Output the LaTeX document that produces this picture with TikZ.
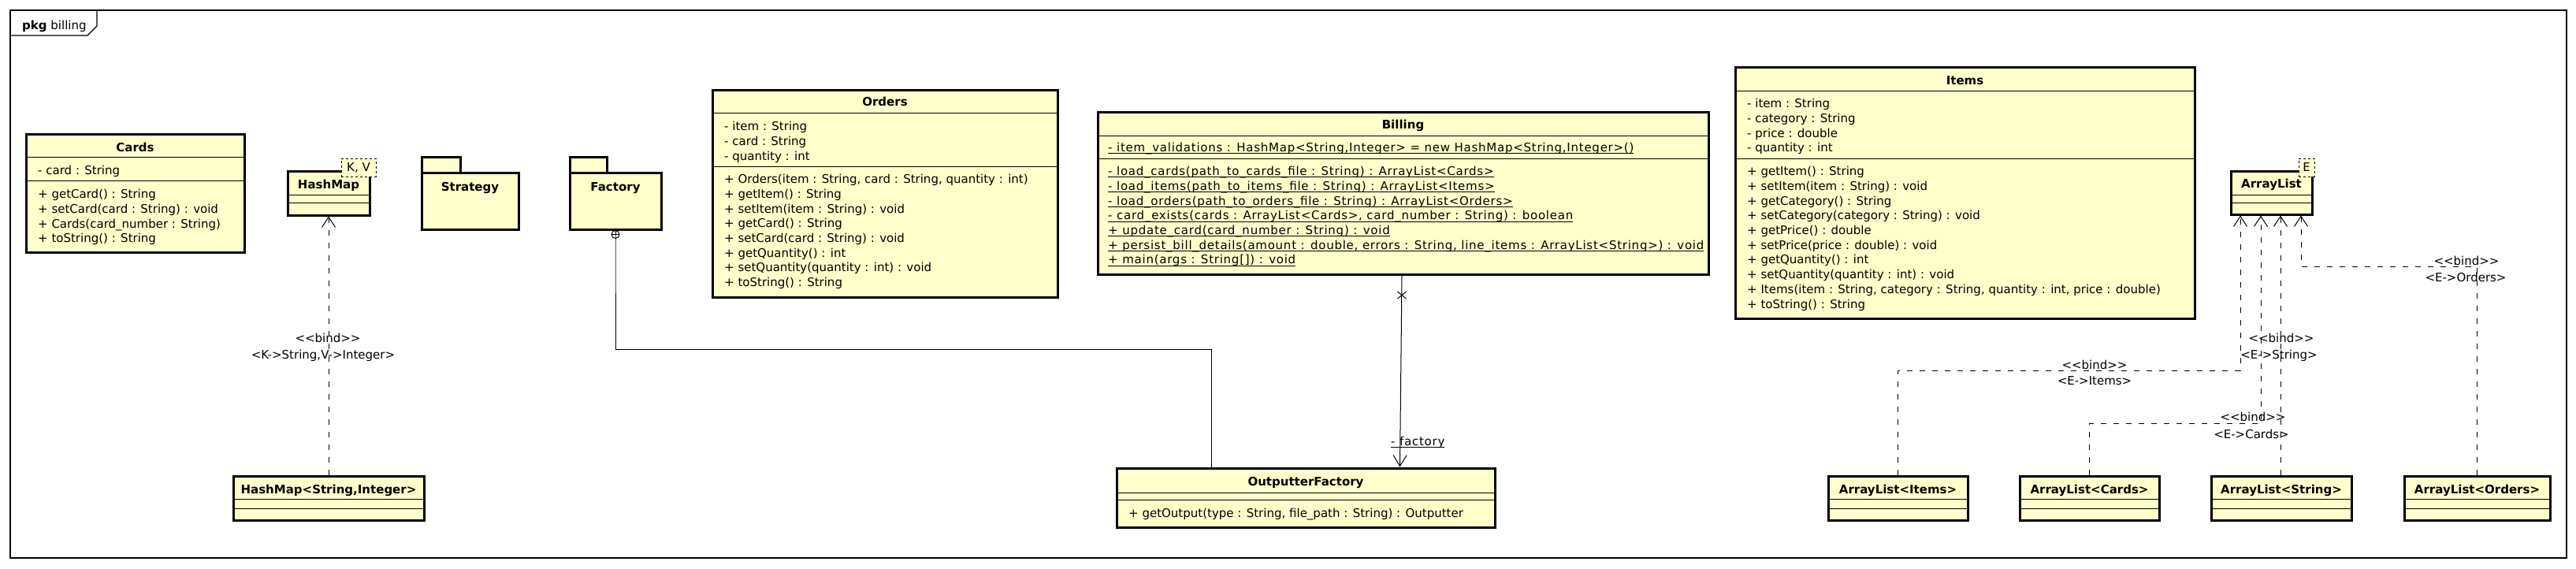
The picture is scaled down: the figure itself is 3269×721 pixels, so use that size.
\documentclass[tikz,border=0pt]{standalone}
\usepackage{fontspec}
\setmainfont{DejaVu Sans}
\newfontfamily\billfont{DejaVu Sans}[LetterSpace=5]
\usetikzlibrary{arrows.meta,calc}
\definecolor{umlfill}{RGB}{255,255,204}
\newcommand\memfont{\fontsize{15}{18.7}\selectfont}
\newcommand\titfont{\fontsize{15}{18.7}\selectfont\bfseries}
\newcommand\stline[1]{\setbox0\hbox{#1}\rlap{\rule[-2.6pt]{\wd0}{0.9pt}}\box0}
\newcommand\ml{\strut}
\tikzset{
  umlbox/.style={draw, line width=3pt, fill=umlfill, inner sep=0pt},
  compsep/.style={line width=1pt},
  members/.style={anchor=north west, inner sep=0pt, align=left, font=\memfont},
  billmembers/.style={members, font=\memfont\billfont},
  title/.style={anchor=base, inner sep=0pt, font=\titfont},
  tparam/.style={draw, dashed, line width=1pt, fill=umlfill, inner sep=0pt, font=\memfont},
  bind/.style={line width=1pt, dash pattern=on 7pt off 9pt, -{Straight Barb[length=13pt,width=17pt]}},
  conn/.style={line width=1pt},
  lbl/.style={inner sep=0pt, font=\memfont},
}
\newcommand\umlrect[5]{\node[umlbox, minimum width={(#4-#2)*1pt}, minimum height={(#5-#3)*1pt}] (#1) at ({(#2+#4)/2},{(#3+#5)/2}) {};}
\newcommand\tparambox[6]{\node[tparam, minimum width={(#4-#2)*1pt}, minimum height={(#5-#3)*1pt}] (#1) at ({(#2+#4)/2},{(#3+#5)/2}) {#6};}
\newcommand\csep[2]{\draw[compsep] (#1.west |- 0,#2) -- (#1.east |- 0,#2);}
\newcommand\members[5][members]{\node[#1] (#2) at (#3,{#4-13.09}) {#5};}
\begin{document}
\begin{tikzpicture}[x=1pt,y=-1pt]
\useasboundingbox[fill=white] (0,0) rectangle (3269,721);
% frame
\node[draw, line width=1.3pt, minimum width=3244pt, minimum height=695pt, inner sep=0pt] (frame) at (1635,360.5) {};
\draw[line width=1.3pt] (13,45) -- (111,45) -- (123,33) -- (123,13);
\node[anchor=base west, inner sep=0pt, font=\memfont] (pkgT) at (28,37) {\textbf{pkg} billing};

% Cards
\umlrect{cards}{33}{170}{310}{320}
\node[title] (cardsT) at (171.5,192.5) {Cards};
\csep{cards}{199}\csep{cards}{229}
\members{cardsA}{48}{221}{\ml - card : String}
\members{cardsM}{48}{251.5}{\ml + getCard() : String\\\ml + setCard(card : String) : void\\\ml + Cards(card\_number : String)\\\ml + toString() : String}

% HashMap
\umlrect{hm}{365}{217}{469}{273}
\node[title] (hmT) at (417,239.5) {HashMap};
\csep{hm}{247}\csep{hm}{257}
\tparambox{hmP}{433}{201}{477}{224}{K, V}

% Strategy package
\umlrect{stratTab}{535}{199}{584}{219}
\umlrect{strat}{535}{219}{658}{291}
\node[title] (stratT) at (596.5,242.5) {Strategy};

% Factory package
\umlrect{facTab}{723}{199}{770}{219}
\umlrect{fac}{723}{219}{839}{291}
\node[title] (facT) at (781,242.5) {Factory};

% Orders
\umlrect{orders}{904}{114}{1342}{377}
\node[title] (ordersT) at (1123,134.5) {Orders};
\csep{orders}{143}\csep{orders}{211}
\members{ordersA}{919}{165.5}{\ml - item : String\\\ml - card : String\\\ml - quantity : int}
\members{ordersM}{919}{232.5}{\ml + Orders(item : String, card : String, quantity : int)\\\ml + getItem() : String\\\ml + setItem(item : String) : void\\\ml + getCard() : String\\\ml + setCard(card : String) : void\\\ml + getQuantity() : int\\\ml + setQuantity(quantity : int) : void\\\ml + toString() : String}

% Billing
\umlrect{billing}{1393}{142}{2168}{348}
\node[title] (billingT) at (1780.5,163.5) {Billing};
\csep{billing}{172}\csep{billing}{201}
\members[billmembers]{billingA}{1406}{192.5}{\ml\stline{- item\_validations : HashMap<String,Integer> = new HashMap<String,Integer>()}}
\members[billmembers]{billingM}{1406}{222.5}{\ml\stline{- load\_cards(path\_to\_cards\_file : String) : ArrayList<Cards>}\\\ml\stline{- load\_items(path\_to\_items\_file : String) : ArrayList<Items>}\\\ml\stline{- load\_orders(path\_to\_orders\_file : String) : ArrayList<Orders>}\\\ml\stline{- card\_exists(cards : ArrayList<Cards>, card\_number : String) : boolean}\\\ml\stline{+ update\_card(card\_number : String) : void}\\\ml\stline{+ persist\_bill\_details(amount : double, errors : String, line\_items : ArrayList<String>) : void}\\\ml\stline{+ main(args : String[]) : void}}

% Items
\umlrect{items}{2202}{85}{2785}{404}
\node[title] (itemsT) at (2493.5,107.5) {Items};
\csep{items}{115}\csep{items}{201}
\members{itemsA}{2217}{136.5}{\ml - item : String\\\ml - category : String\\\ml - price : double\\\ml - quantity : int}
\members{itemsM}{2217}{222.5}{\ml + getItem() : String\\\ml + setItem(item : String) : void\\\ml + getCategory() : String\\\ml + setCategory(category : String) : void\\\ml + getPrice() : double\\\ml + setPrice(price : double) : void\\\ml + getQuantity() : int\\\ml + setQuantity(quantity : int) : void\\\ml + Items(item : String, category : String, quantity : int, price : double)\\\ml + toString() : String}

% ArrayList
\umlrect{al}{2831}{217}{2934}{272}
\node[title] (alT) at (2882.5,238.5) {ArrayList};
\csep{al}{247}\csep{al}{257}
\tparambox{alP}{2917}{201}{2937}{224}{E}

% bound classes
\umlrect{hmSI}{296}{604}{538}{660}
\node[title] (hmSIT) at (417,626) {HashMap<String,Integer>};
\csep{hmSI}{633}\csep{hmSI}{645}
\umlrect{alI}{2320}{604}{2497}{660}
\node[title] (alIT) at (2408.5,626) {ArrayList<Items>};
\csep{alI}{633}\csep{alI}{645}
\umlrect{alC}{2563}{604}{2740}{660}
\node[title] (alCT) at (2651.5,626) {ArrayList<Cards>};
\csep{alC}{633}\csep{alC}{645}
\umlrect{alS}{2806}{604}{2984}{660}
\node[title] (alST) at (2895,626) {ArrayList<String>};
\csep{alS}{633}\csep{alS}{645}
\umlrect{alO}{3051}{604}{3236}{660}
\node[title] (alOT) at (3143.5,626) {ArrayList<Orders>};
\csep{alO}{633}\csep{alO}{645}

% OutputterFactory
\umlrect{of}{1417}{594}{1897}{669}
\node[title] (ofT) at (1657,616.5) {OutputterFactory};
\csep{of}{625}\csep{of}{634}
\members{ofM}{1432}{656.5}{\ml + getOutput(type : String, file\_path : String) : Outputter}

% HashMap binding
\draw[bind] (hmSI.north) -- (hm.south);
\node[lbl] (hmB1) at (416,429) {<{}<bind>{}>};
\node[lbl] (hmB2) at (410,451) {<K->String,V->Integer>};

% ArrayList bindings
\coordinate (bI) at (2843,470);
\coordinate (bC) at (2869,537);
\coordinate (bS) at (2894,500);
\coordinate (bO) at (2920,338);
\draw[bind] (alI.north) |- (bI) -- (bI |- al.south);
\draw[bind] (alC.north) |- (bC) -- (bC |- al.south);
\draw[bind] (alS.north -| bS) -- (bS |- al.south);
\draw[bind] (alO.north) |- (bO) -- (bO |- al.south);
\node[lbl] (biI1) at (2658,463) {<{}<bind>{}>};
\node[lbl] (biI2) at (2658,483) {<E->Items>};
\node[lbl] (biC1) at (2859,529) {<{}<bind>{}>};
\node[lbl] (biC2) at (2857,551) {<E->Cards>};
\node[lbl] (biS1) at (2895,429) {<{}<bind>{}>};
\node[lbl] (biS2) at (2892,451) {<E->String>};
\node[lbl] (biO1) at (3130,331) {<{}<bind>{}>};
\node[lbl] (biO2) at (3129,352) {<E->Orders>};

% nesting Factory -> OutputterFactory
\draw[conn] ($(fac.south)+(0,5)$) circle (5pt);
\draw[conn] ($(fac.south)+(-5,5)$) -- ++(10,0);
\coordinate (nest) at (1537,443);
\draw[conn] (fac.south) -- ($(fac.south)+(0,10)$) |- (nest) -- (nest |- of.north);

% association Billing -> OutputterFactory
\coordinate (fs) at ($(billing.south)+(-1.5,0)$);
\coordinate (fe) at ($(of.north)+(119.5,0)$);
\draw[conn, -{Straight Barb[length=14pt,width=17pt]}] (fs) -- (fe);
\draw[conn] ($(fs)+(-5.5,20.5)$) -- ($(fs)+(5.5,29.5)$) ($(fs)+(5.5,20.5)$) -- ($(fs)+(-5.5,29.5)$);
\node[lbl, anchor=base west, font=\memfont\billfont] (factL) at (1765,565) {\stline{- factory}};
\end{tikzpicture}
\end{document}
